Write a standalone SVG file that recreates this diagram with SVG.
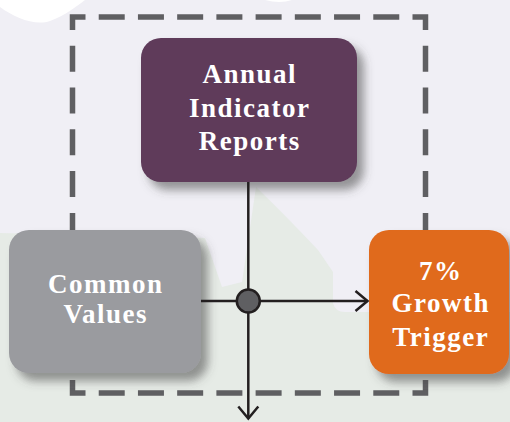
<svg xmlns="http://www.w3.org/2000/svg" width="510" height="422" viewBox="0 0 510 422">
<defs>
<filter id="sh" x="-20%" y="-20%" width="150%" height="150%">
<feDropShadow dx="7" dy="8" stdDeviation="5" flood-color="#4a4a4a" flood-opacity="0.55"/>
</filter>
<marker id="chev" markerUnits="userSpaceOnUse" orient="auto" refX="0" refY="0" markerWidth="30" markerHeight="30" viewBox="-15 -15 30 30" overflow="visible">
<path d="M-12,-10 L0,0 L-12,10" fill="none" stroke="#231f20" stroke-width="2.5" stroke-linejoin="miter"/>
</marker>
<style>
.lbl{font-family:"Liberation Serif","DejaVu Serif",serif;font-weight:bold;font-size:27px;letter-spacing:1.5px;fill:#ffffff;text-anchor:middle}
.conn{fill:none;stroke:#231f20;stroke-width:2.5}
</style>
</defs>
<g id="background">
<rect x="0" y="0" width="510" height="422" fill="#f0eff5"/>
<path d="M0,233 L205,238 L222,287 L242,282 L256,187 Q285,215 318,250 L333,272 L333,303 Q335,312 345,312 L510,312 L510,422 L0,422 Z" fill="#e6ebe6"/>
<path d="M0,0 L0,7 C15,18 35,26 50,21 C65,16 78,5 85,0 Z" fill="#ffffff"/>
<path d="M265,0 Q280,4 292,0 Z" fill="#ffffff"/>
</g>
<g id="frame">
<path d="M85.5,17 H425.5 V393 H72.5 V17 H85.5" fill="none" stroke="#5f5f62" stroke-width="5.5" stroke-linejoin="miter" stroke-dasharray="0 13.222 26 13.222 26 13.222 26 13.222 26 13.222 26 13.222 26 13.222 26 13.222 26 13.222 26 15.778 26 15.778 26 15.778 26 15.778 26 15.778 26 15.778 26 15.778 26 15.778 26 15.778 26 13.222 26 13.222 26 13.222 26 13.222 26 13.222 26 13.222 26 13.222 26 13.222 26 13.222 26 15.778 26 15.778 26 15.778 26 15.778 26 15.778 26 15.778 26 15.778 26 15.778 26 15.778 26"/>
</g>
<g id="annual-indicator-reports">
<rect x="141" y="38" width="216" height="144" rx="20" fill="#5e3a5a" filter="url(#sh)"/>
<text class="lbl" x="249.8" y="83">Annual</text>
<text class="lbl" x="249.8" y="116.5">Indicator</text>
<text class="lbl" x="249.8" y="150">Reports</text>
</g>
<g id="common-values">
<rect x="9" y="230" width="192" height="143" rx="20" fill="#9a9b9f" filter="url(#sh)"/>
<text class="lbl" x="105.8" y="293">Common</text>
<text class="lbl" x="105.8" y="323">Values</text>
</g>
<g id="growth-trigger">
<rect x="369" y="230" width="140" height="144" rx="20" fill="#e06a1d" filter="url(#sh)"/>
<text class="lbl" x="440.8" y="280">7%</text>
<text class="lbl" x="440.8" y="312">Growth</text>
<text class="lbl" x="440.8" y="346">Trigger</text>
</g>
<g id="connectors">
<path class="conn" d="M248.3,182 V418.5" marker-end="url(#chev)"/>
<path class="conn" d="M201,301 H367.5" marker-end="url(#chev)"/>
<circle cx="248.3" cy="301" r="11.5" fill="#5f5f62" stroke="#231f20" stroke-width="2.5"/>
</g>
</svg>
